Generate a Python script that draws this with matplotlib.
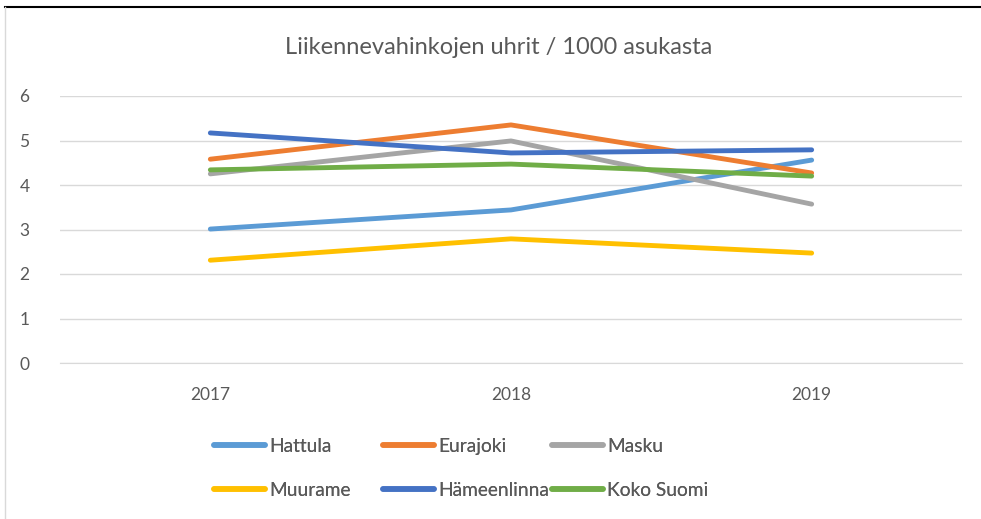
import matplotlib.pyplot as plt
from matplotlib.lines import Line2D

years = ['2017', '2018', '2019']
names = ['Hattula', 'Eurajoki', 'Masku', 'Muurame', 'Hämeenlinna', 'Koko Suomi']
hattula = [3.01, 3.44, 4.56]
eurajoki = [4.58, 5.35, 4.27]
masku = [4.25, 4.99, 3.57]
muurame = [2.31, 2.79, 2.47]
hameenlinna = [5.17, 4.72, 4.79]
koko_suomi = [4.34, 4.47, 4.20]

colors = ['#5B9BD5', '#ED7D31', '#A5A5A5', '#FFC000', '#4472C4', '#70AD47']
series = [hattula, eurajoki, masku, muurame, hameenlinna, koko_suomi]

plt.rcParams['font.family'] = ['Lato', 'DejaVu Sans']
txt = '#595959'

fig = plt.figure(figsize=(9.81, 5.19), dpi=100)
ax = fig.add_axes([60/981, 1-363/519, 902/981, 267/519])

x = list(range(len(years)))
handles = []
for vals, name, c in zip(series, names, colors):
	ln, = ax.plot(x, vals, color=c, lw=3.5, solid_capstyle='round', solid_joinstyle='round', label=name)
	handles.append(ln)

ax.set_xlim(-0.5, 2.5)
ax.set_ylim(0, 6)
ax.set_yticks(range(0, 7))
ax.set_xticks(x)
ax.set_xticklabels(years)
ax.grid(axis='y', color='#D9D9D9', lw=1)
ax.set_axisbelow(True)
for s in ['top', 'right', 'left']:
	ax.spines[s].set_visible(False)
ax.spines['bottom'].set_color('#D9D9D9')
ax.tick_params(length=0, labelsize=12.5, colors=txt)
ax.tick_params(axis='x', pad=17)
ax.tick_params(axis='y', pad=22)

fig.text(0.508, 1-47/519, 'Liikennevahinkojen uhrit / 1000 asukasta', ha='center', va='center',
	fontsize=17, color=txt)

# legend: excel style, fixed column widths, one legend per column
col_x = [214, 383, 552]
for k in range(3):
	idx = [k, k + 3]
	leg = fig.legend([handles[i] for i in idx], [names[i] for i in idx], ncol=1,
		loc='center left', bbox_to_anchor=((col_x[k] - 6)/981, 1-468.5/519), frameon=False,
		fontsize=13.8, handlelength=2.65, handletextpad=0.25, labelspacing=1.4,
		borderaxespad=0, borderpad=0.3, labelcolor=txt)
	for h in leg.legend_handles:
		h.set_linewidth(4)
	fig.add_artist(leg)

# chart border
fig.add_artist(Line2D([5/981, 1], [1-7/519, 1-7/519], color='black', lw=1.5))
fig.add_artist(Line2D([5/981, 5/981], [0, 1-7/519], color='#D9D9D9', lw=1))

plt.savefig('out.png', dpi=100)
